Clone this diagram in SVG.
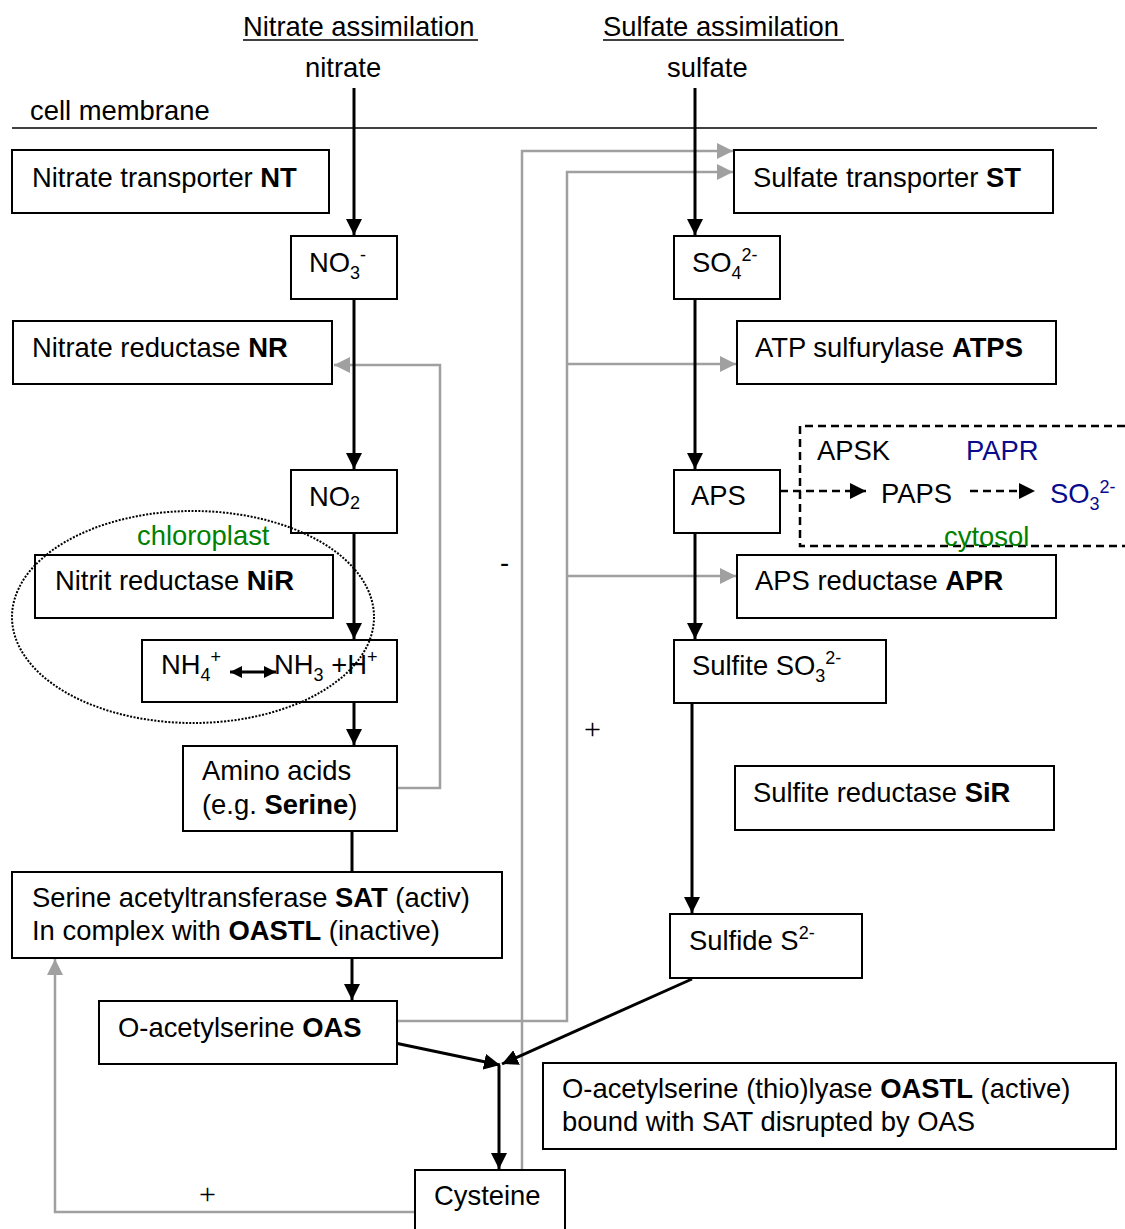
<svg xmlns="http://www.w3.org/2000/svg" width="1125" height="1229" viewBox="0 0 1125 1229">
<style>
text{font-family:"Liberation Sans",Arial,sans-serif;font-size:27.4px;fill:#000}
.b{font-weight:bold}
.s{font-size:18px}
.box{fill:#fff;stroke:#000;stroke-width:2}
.bl{fill:none;stroke:#000;stroke-width:3}
.gr{fill:none;stroke:#a0a0a0;stroke-width:2.5}
.dash{fill:none;stroke:#000;stroke-width:2.5;stroke-dasharray:8,5}
.green{fill:#008000}
.navy{fill:#0a0a8c}
.pl{font-family:"Liberation Serif",serif;font-size:30px}
</style>
<defs>
<marker id="ab" markerUnits="userSpaceOnUse" markerWidth="16" markerHeight="16" refX="16" refY="8" orient="auto"><path d="M0,0 L16,8 L0,16 z" fill="#000"/></marker>
<marker id="as" markerUnits="userSpaceOnUse" markerWidth="12" markerHeight="12" refX="12" refY="6" orient="auto-start-reverse"><path d="M0,0 L12,6 L0,12 z" fill="#000"/></marker>
<marker id="ag" markerUnits="userSpaceOnUse" markerWidth="16" markerHeight="16" refX="16" refY="8" orient="auto"><path d="M0,0 L16,8 L0,16 z" fill="#a0a0a0"/></marker>
</defs>

<g id="headers">
<text x="243" y="36">Nitrate assimilation</text>
<line x1="243" y1="40" x2="478" y2="40" stroke="#000" stroke-width="1.5"/>
<text x="603" y="36">Sulfate assimilation</text>
<line x1="603" y1="40" x2="844" y2="40" stroke="#000" stroke-width="1.5"/>
<text x="305" y="77">nitrate</text>
<text x="667" y="77">sulfate</text>
<text x="30" y="120">cell membrane</text>
<line x1="12" y1="128" x2="1097" y2="128" stroke="#000" stroke-width="1.5"/>
</g>

<g id="connectors">
<polyline class="gr" points="398,788 440,788 440,365 334,365" marker-end="url(#ag)"/>
<polyline class="gr" points="522,1170 522,151 733,151" marker-end="url(#ag)"/>
<polyline class="gr" points="398,1021 567,1021 567,172 733,172" marker-end="url(#ag)"/>
<line class="gr" x1="567" y1="364" x2="736" y2="364" marker-end="url(#ag)"/>
<line class="gr" x1="567" y1="576" x2="736" y2="576" marker-end="url(#ag)"/>
<polyline class="gr" points="415,1212 55,1212 55,959" marker-end="url(#ag)"/>

<line class="bl" x1="354" y1="88" x2="354" y2="235" marker-end="url(#ab)"/>
<line class="bl" x1="354" y1="300" x2="354" y2="469" marker-end="url(#ab)"/>
<line class="bl" x1="354" y1="534" x2="354" y2="639" marker-end="url(#ab)"/>
<line class="bl" x1="354" y1="703" x2="354" y2="745" marker-end="url(#ab)"/>
<line class="bl" x1="352" y1="831" x2="352" y2="872"/>
<line class="bl" x1="352" y1="958" x2="352" y2="1000" marker-end="url(#ab)"/>
<line class="bl" x1="395" y1="1043" x2="500" y2="1065" marker-end="url(#ab)"/>
<line class="bl" x1="692" y1="979" x2="502" y2="1064" marker-end="url(#ab)"/>
<line class="bl" x1="499" y1="1065" x2="499" y2="1169" marker-end="url(#ab)"/>
<line class="bl" x1="695" y1="88" x2="695" y2="235" marker-end="url(#ab)"/>
<line class="bl" x1="695" y1="300" x2="695" y2="469" marker-end="url(#ab)"/>
<line class="bl" x1="695" y1="534" x2="695" y2="639" marker-end="url(#ab)"/>
<line class="bl" x1="692" y1="703" x2="692" y2="913" marker-end="url(#ab)"/>
<line class="dash" x1="780" y1="491" x2="866" y2="491" marker-end="url(#ab)"/>
<line class="dash" x1="970" y1="491" x2="1035" y2="491" marker-end="url(#ab)"/>
</g>

<g id="cytosol">
<path class="dash" d="M1125,426 H800 V546 H1125"/>
<text x="817" y="460">APSK</text>
<text x="966" y="460" class="navy">PAPR</text>
<text x="881" y="503">PAPS</text>
<text x="1050" y="503" class="navy">SO<tspan class="s" dy="7">3</tspan><tspan class="s" dy="-17">2-</tspan></text>
<text x="944" y="546" class="green">cytosol</text>
</g>

<g id="NT"><rect class="box" x="12" y="150" width="317" height="63"/><text x="32" y="187">Nitrate transporter <tspan class="b">NT</tspan></text></g>
<g id="ST"><rect class="box" x="734" y="150" width="319" height="63"/><text x="753" y="187">Sulfate transporter <tspan class="b">ST</tspan></text></g>
<g id="NO3"><rect class="box" x="291" y="236" width="106" height="63"/><text x="309" y="272">NO<tspan class="s" dy="7">3</tspan><tspan class="s" dy="-18">-</tspan></text></g>
<g id="SO4"><rect class="box" x="674" y="236" width="106" height="63"/><text x="692" y="272">SO<tspan class="s" dy="7">4</tspan><tspan class="s" dy="-18">2-</tspan></text></g>
<g id="NR"><rect class="box" x="13" y="321" width="319" height="63"/><text x="32" y="357">Nitrate reductase <tspan class="b">NR</tspan></text></g>
<g id="ATPS"><rect class="box" x="737" y="321" width="319" height="63"/><text x="755" y="357">ATP sulfurylase <tspan class="b">ATPS</tspan></text></g>
<g id="NO2"><rect class="box" x="291" y="470" width="106" height="63"/><text x="309" y="506">NO<tspan class="s" dy="3">2</tspan></text></g>
<g id="APS"><rect class="box" x="674" y="470" width="106" height="63"/><text x="691" y="505">APS</text></g>
<g id="NiR"><rect class="box" x="35" y="555" width="298" height="63"/><text x="55" y="590">Nitrit reductase <tspan class="b">NiR</tspan></text></g>
<g id="APR"><rect class="box" x="737" y="555" width="319" height="63"/><text x="755" y="590">APS reductase <tspan class="b">APR</tspan></text></g>
<g id="NH"><rect class="box" x="142" y="640" width="255" height="62"/>
<text x="161" y="674">NH<tspan class="s" dy="7">4</tspan><tspan class="s" dy="-18">+</tspan></text>
<text x="274" y="674">NH<tspan class="s" dy="7">3</tspan><tspan dy="-7"> +H</tspan><tspan class="s" dy="-11">+</tspan></text>
<line x1="230" y1="672" x2="276" y2="672" stroke="#000" stroke-width="3" marker-start="url(#as)" marker-end="url(#as)"/>
</g>
<g id="Sulfite"><rect class="box" x="674" y="640" width="212" height="63"/><text x="692" y="675">Sulfite SO<tspan class="s" dy="7">3</tspan><tspan class="s" dy="-18">2-</tspan></text></g>
<g id="Amino"><rect class="box" x="183" y="746" width="214" height="85"/><text x="202" y="780">Amino acids</text><text x="202" y="814">(e.g. <tspan class="b">Serine</tspan>)</text></g>
<g id="SiR"><rect class="box" x="735" y="766" width="319" height="64"/><text x="753" y="802">Sulfite reductase <tspan class="b">SiR</tspan></text></g>
<g id="SAT"><rect class="box" x="12" y="872" width="490" height="86"/><text x="32" y="907">Serine acetyltransferase <tspan class="b">SAT</tspan> (activ)</text><text x="32" y="940">In complex with <tspan class="b">OASTL</tspan> (inactive)</text></g>
<g id="Sulfide"><rect class="box" x="670" y="914" width="192" height="64"/><text x="689" y="950">Sulfide S<tspan class="s" dy="-11">2-</tspan></text></g>
<g id="OAS"><rect class="box" x="99" y="1001" width="298" height="63"/><text x="118" y="1037">O-acetylserine <tspan class="b">OAS</tspan></text></g>
<g id="OASTL"><rect class="box" x="543" y="1063" width="573" height="86"/><text x="562" y="1098">O-acetylserine (thio)lyase <tspan class="b">OASTL</tspan> (active)</text><text x="562" y="1131">bound with SAT disrupted by OAS</text></g>
<g id="Cysteine"><rect class="box" x="415" y="1170" width="150" height="70"/><text x="434" y="1205">Cysteine</text></g>

<g id="chloroplast">
<ellipse cx="193" cy="617" rx="181" ry="106" fill="none" stroke="#000" stroke-width="2" stroke-dasharray="2,1.5"/>
<text x="137" y="545" class="green">chloroplast</text>
</g>

<g id="labels">
<text x="500" y="572">-</text>
<text x="584" y="739" class="pl">+</text>
<text x="199" y="1204" class="pl">+</text>
</g>
</svg>
